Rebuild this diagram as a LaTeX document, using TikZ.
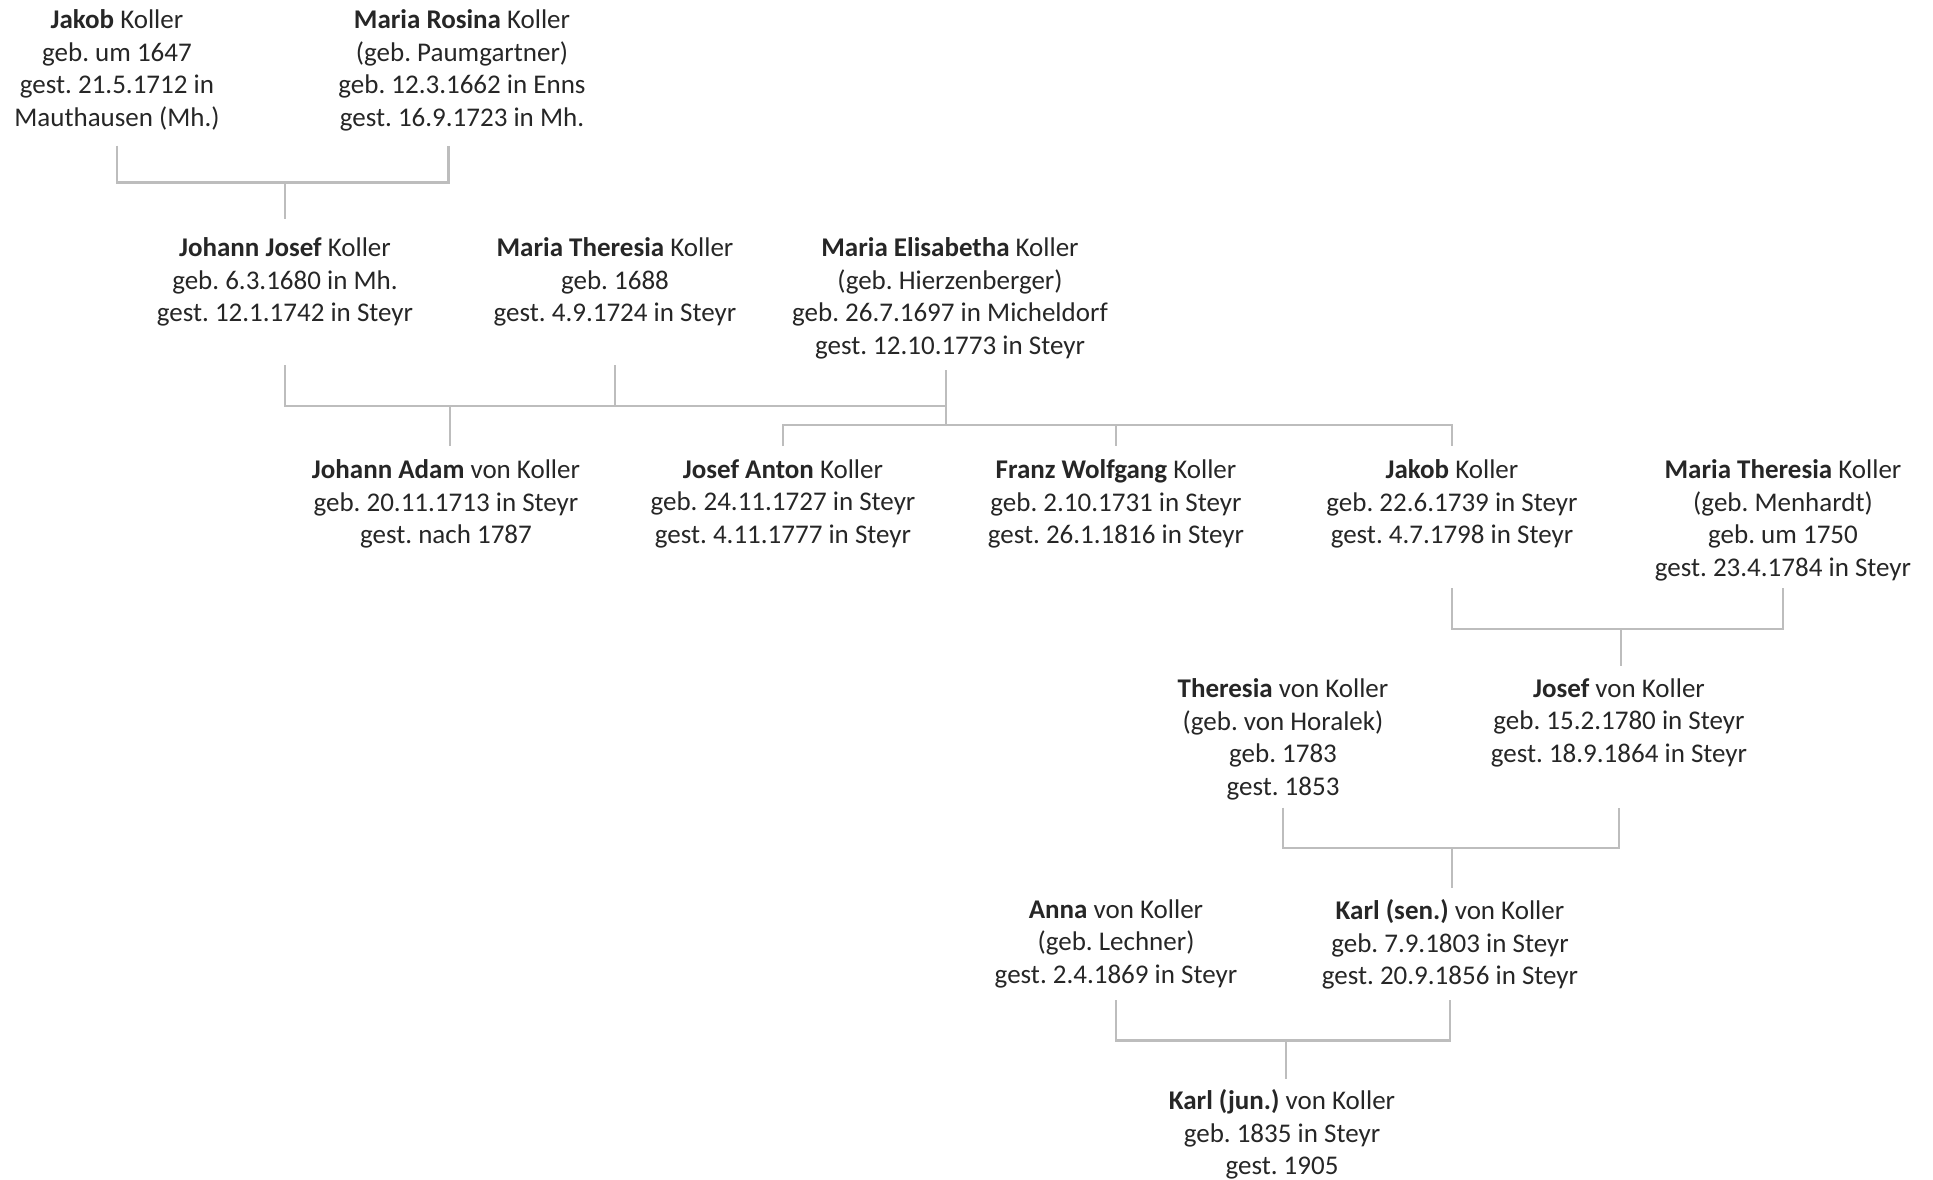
\documentclass[tikz,border=0pt]{standalone}
\usepackage{fontspec}
\setmainfont{Carlito}
\frenchspacing
\definecolor{linegray}{HTML}{BDBDBD}
\definecolor{textgray}{HTML}{262626}

\begin{document}
\begin{tikzpicture}[
        x=0.5pt, y=-0.5pt, % Koordinaten in Pixeln, y nach unten
        person/.style={align=center, anchor=north, inner sep=0pt, text=textgray,
            font=\fontsize{13.5}{16.35}\selectfont}, % Stil der Personen
        bond/.style={draw=linegray, line width=1.1pt}, % Stil der Linien
    ]
    \useasboundingbox (0,0) rectangle (1933,1179);

    % 1. Generation
    \node[person] (jakob) at (117,9) {\textbf{Jakob} Koller\\geb. um 1647\\gest. 21.5.1712 in\\Mauthausen (Mh.)};
    \node[person] (rosina) at (462,9) {\textbf{Maria Rosina} Koller\\(geb. Paumgartner)\\geb. 12.3.1662 in Enns\\gest. 16.9.1723 in Mh.};

    % 2. Generation
    \node[person] (jjosef) at (285,237) {\textbf{Johann Josef} Koller\\geb. 6.3.1680 in Mh.\\gest. 12.1.1742 in Steyr};
    \node[person] (mtheresia) at (615,237) {\textbf{Maria Theresia} Koller\\geb. 1688\\gest. 4.9.1724 in Steyr};
    \node[person] (melisabetha) at (950,237) {\textbf{Maria Elisabetha} Koller\\(geb. Hierzenberger)\\geb. 26.7.1697 in Micheldorf\\gest. 12.10.1773 in Steyr};

    % 3. Generation
    \node[person] (jadam) at (446,459) {\textbf{Johann Adam} von Koller\\geb. 20.11.1713 in Steyr\\gest. nach 1787};
    \node[person] (janton) at (783,459) {\textbf{Josef Anton} Koller\\geb. 24.11.1727 in Steyr\\gest. 4.11.1777 in Steyr};
    \node[person] (fwolfgang) at (1116,459) {\textbf{Franz Wolfgang} Koller\\geb. 2.10.1731 in Steyr\\gest. 26.1.1816 in Steyr};
    \node[person] (jakobII) at (1452,459) {\textbf{Jakob} Koller\\geb. 22.6.1739 in Steyr\\gest. 4.7.1798 in Steyr};
    \node[person] (menhardt) at (1783,459) {\textbf{Maria Theresia} Koller\\(geb. Menhardt)\\geb. um 1750\\gest. 23.4.1784 in Steyr};

    % 4. Generation
    \node[person] (theresia) at (1283,678) {\textbf{Theresia} von Koller\\(geb. von Horalek)\\geb. 1783\\gest. 1853};
    \node[person] (josef) at (1619,678) {\textbf{Josef} von Koller\\geb. 15.2.1780 in Steyr\\gest. 18.9.1864 in Steyr};

    % 5. Generation
    \node[person] (anna) at (1116,899) {\textbf{Anna} von Koller\\(geb. Lechner)\\gest. 2.4.1869 in Steyr};
    \node[person] (karlsen) at (1450,899) {\textbf{Karl (sen.)} von Koller\\geb. 7.9.1803 in Steyr\\gest. 20.9.1856 in Steyr};

    % 6. Generation
    \node[person] (karljun) at (1282,1089) {\textbf{Karl (jun.)} von Koller\\geb. 1835 in Steyr\\gest. 1905};

    % Hoehen der Linien
    \coordinate (top1) at (0,145.5);
    \coordinate (top2) at (0,365);
    \coordinate (top3) at (0,588);
    \coordinate (top4) at (0,807.5);
    \coordinate (top5) at (0,1000);
    \coordinate (bar1) at (285,182.5);
    \coordinate (bar2) at (450,405.6);
    \coordinate (bar3) at (946,425.3);
    \coordinate (bar4) at (1621,628.7);
    \coordinate (bar5) at (1452,848.2);
    \coordinate (bar6) at (1286,1040.5);

    \draw[bond] (jakob |- top1) |- (bar1) -| ([xshift=-6.8pt]rosina |- top1);
    \draw[bond] (bar1) -- (bar1 |- 0,219.4);

    \draw[bond] (jjosef |- top2) |- (bar2) -| (bar3 |- 0,405.6);
    \draw[bond] (mtheresia |- top2) -- (mtheresia |- bar2);
    \draw[bond] (bar2) -- (bar2 |- 0,446);
    \draw[bond] (bar3 |- 0,370) -- (bar3);
    \draw[bond] (janton |- 0,446) |- (bar3) -| (jakobII |- 0,446);
    \draw[bond] (fwolfgang |- bar3) -- (fwolfgang |- 0,446);

    \draw[bond] (jakobII |- top3) |- (bar4) -| (menhardt |- top3);
    \draw[bond] (bar4) -- (bar4 |- 0,665.7);

    \draw[bond] (theresia |- top4) |- (bar5) -| (josef |- top4);
    \draw[bond] (bar5) -- (bar5 |- 0,887.6);

    \draw[bond] (anna |- top5) |- (bar6) -| (karlsen |- top5);
    \draw[bond] (bar6) -- (bar6 |- 0,1078.7);
\end{tikzpicture}
\end{document}
